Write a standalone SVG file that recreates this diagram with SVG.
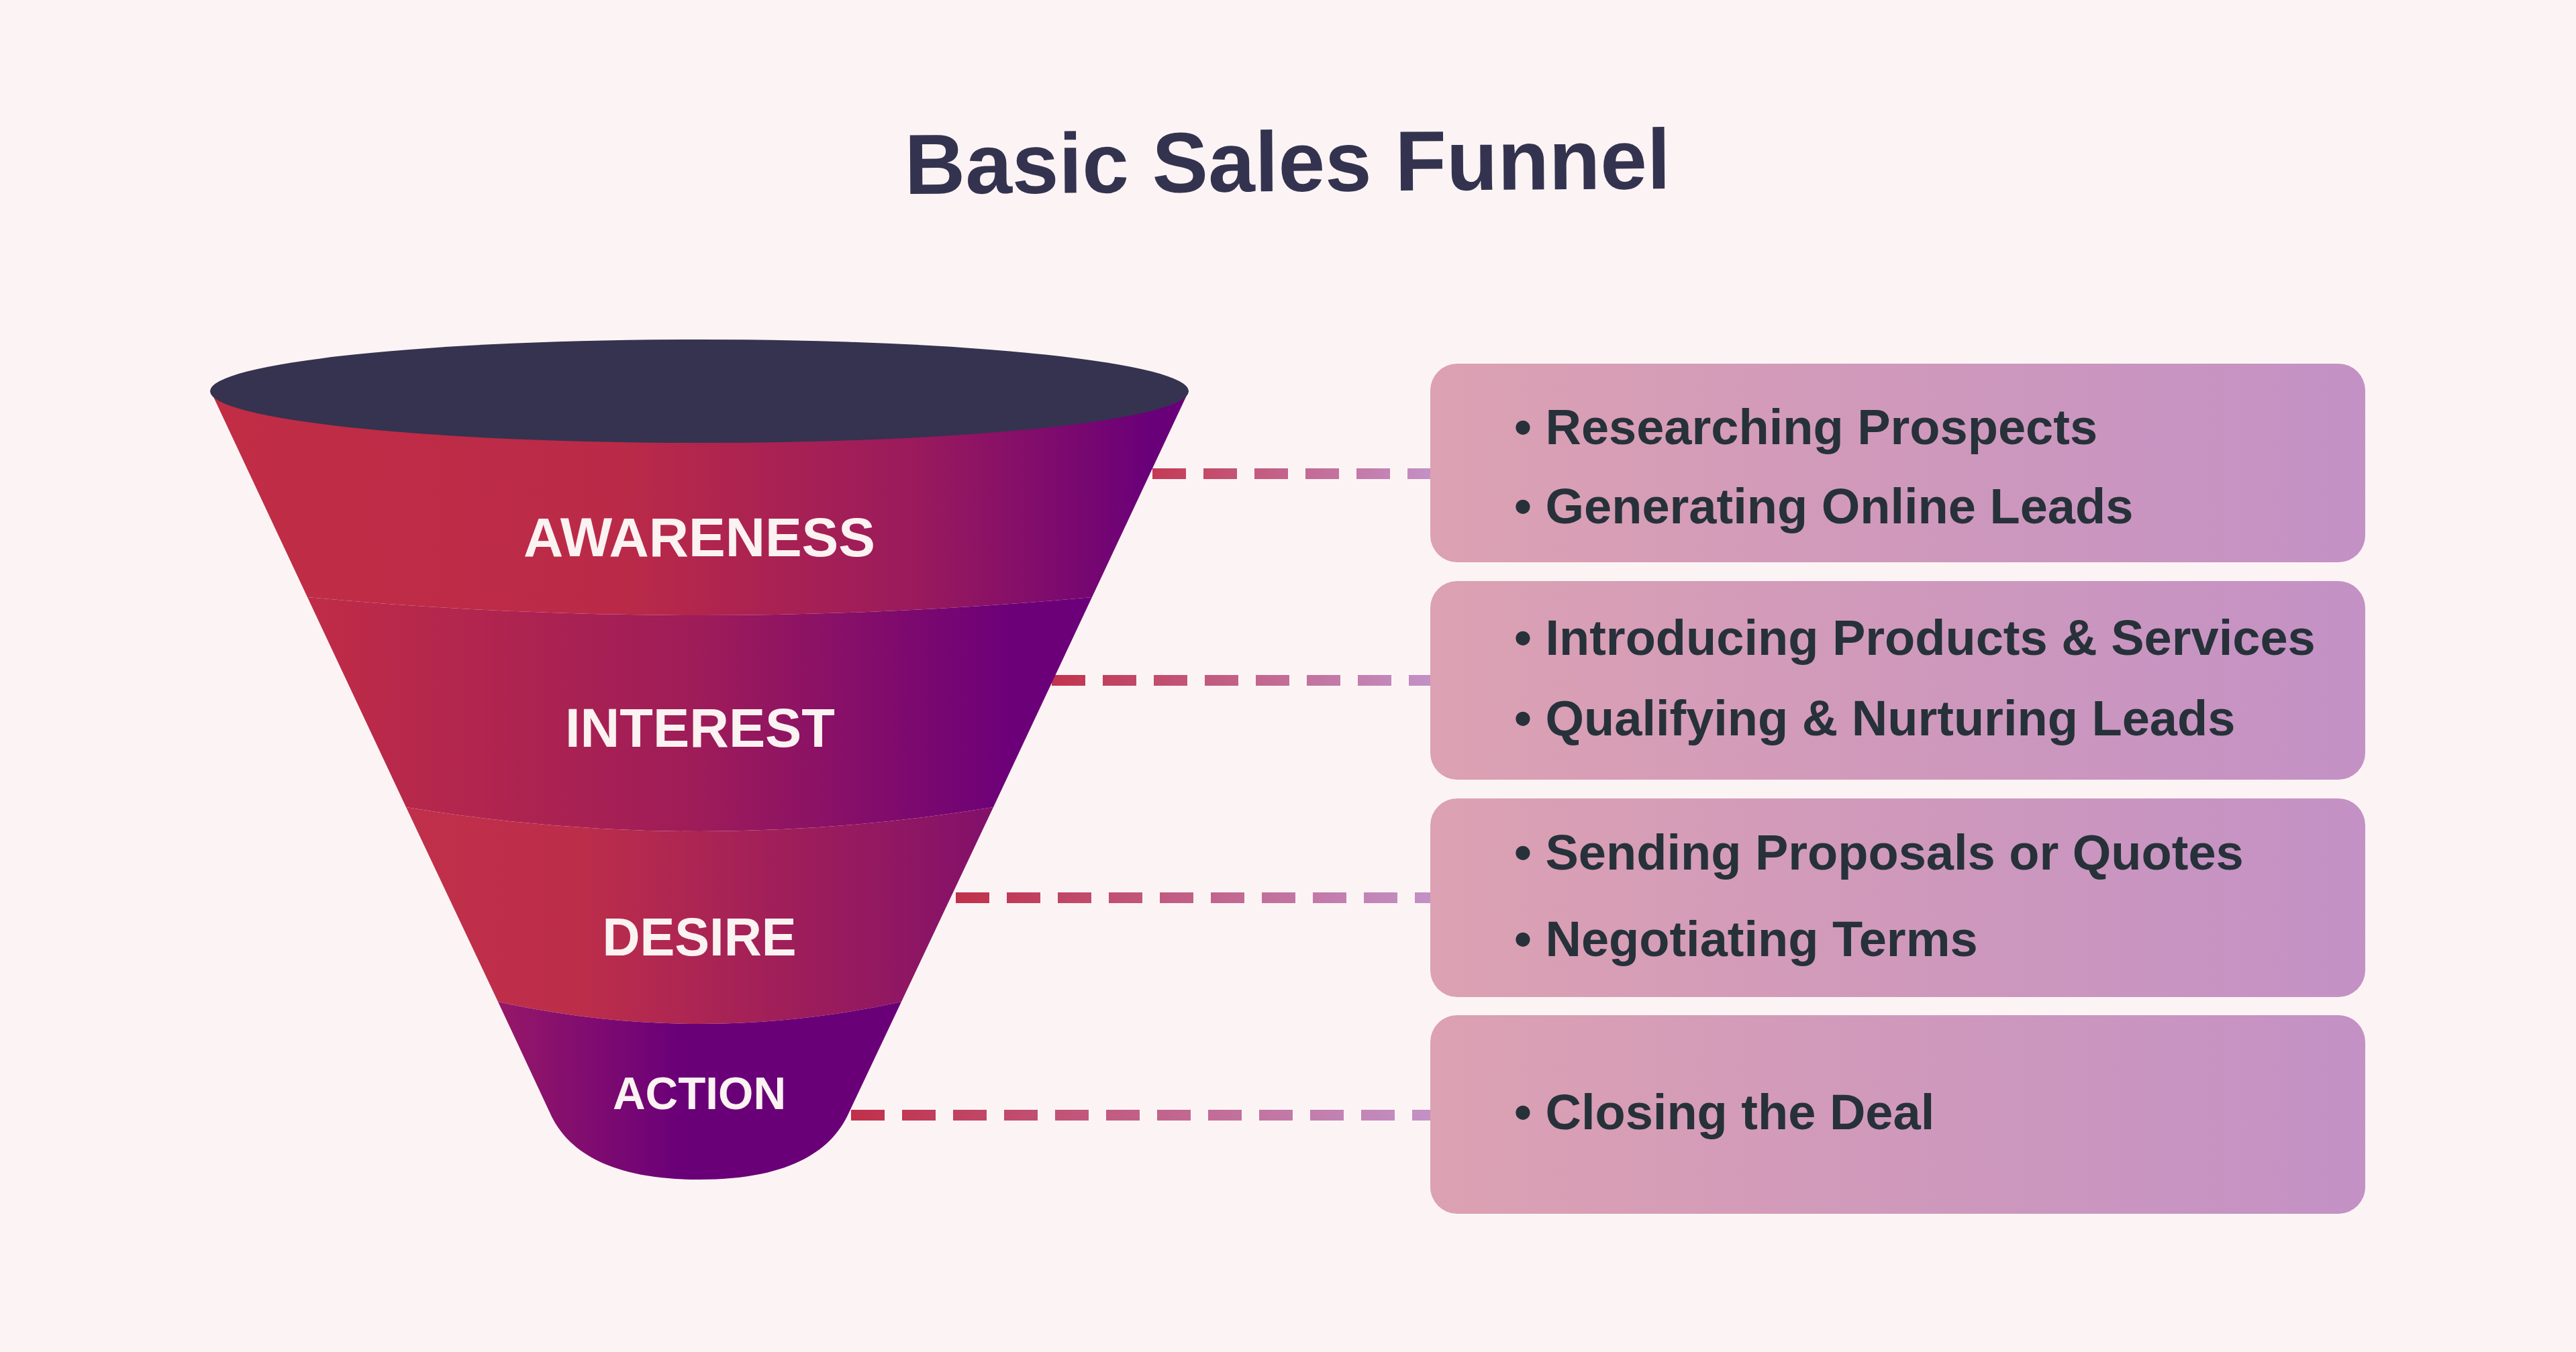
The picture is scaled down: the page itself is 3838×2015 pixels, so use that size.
<svg xmlns="http://www.w3.org/2000/svg" width="3838" height="2015" viewBox="0 0 3838 2015">
<style>
  .title{font-family:"Liberation Sans",Arial,sans-serif;font-weight:700;font-size:127px;fill:#34334f}
  .stage{font-family:"Liberation Sans",Arial,sans-serif;font-weight:700;fill:#fbf2f2;text-anchor:middle}
  .item{font-family:"Liberation Sans",Arial,sans-serif;font-weight:700;font-size:74px;fill:#27313a}
  .box{fill:url(#gBox)}
  .dash{fill:none;stroke-width:16;stroke-dasharray:50 26}
</style>
<defs>
  <linearGradient id="gAw" gradientUnits="userSpaceOnUse" x1="314" y1="0" x2="1771" y2="0">
    <stop offset="0" stop-color="#c12d45"/>
    <stop offset="0.42" stop-color="#ba2a48"/>
    <stop offset="0.72" stop-color="#9a1a5c"/>
    <stop offset="0.96" stop-color="#6a0079"/>
  </linearGradient>
  <linearGradient id="gIn" gradientUnits="userSpaceOnUse" x1="455" y1="0" x2="1627" y2="0">
    <stop offset="0" stop-color="#c02c46"/>
    <stop offset="0.5" stop-color="#9e1c59"/>
    <stop offset="0.9" stop-color="#6c0079"/>
  </linearGradient>
  <linearGradient id="gDe" gradientUnits="userSpaceOnUse" x1="605" y1="0" x2="1480" y2="0">
    <stop offset="0" stop-color="#c1304a"/>
    <stop offset="0.3" stop-color="#bc2d4a"/>
    <stop offset="1" stop-color="#82106a"/>
  </linearGradient>
  <linearGradient id="gAc" gradientUnits="userSpaceOnUse" x1="742" y1="0" x2="1343" y2="0">
    <stop offset="0" stop-color="#961868"/>
    <stop offset="0.45" stop-color="#6a0078"/>
    <stop offset="1" stop-color="#6a0078"/>
  </linearGradient>
  <linearGradient id="gBox" x1="0" y1="0" x2="1" y2="0">
    <stop offset="0" stop-color="#dca1b2"/>
    <stop offset="1" stop-color="#c391c5"/>
  </linearGradient>
  <linearGradient id="gL1" gradientUnits="userSpaceOnUse" x1="1717" y1="0" x2="2132" y2="0">
    <stop offset="0" stop-color="#c43a55"/>
    <stop offset="1" stop-color="#c391c6"/>
  </linearGradient>
  <linearGradient id="gL2" gradientUnits="userSpaceOnUse" x1="1567" y1="0" x2="2132" y2="0">
    <stop offset="0" stop-color="#c2334c"/>
    <stop offset="1" stop-color="#c391c6"/>
  </linearGradient>
  <linearGradient id="gL3" gradientUnits="userSpaceOnUse" x1="1424" y1="0" x2="2132" y2="0">
    <stop offset="0" stop-color="#c0304a"/>
    <stop offset="1" stop-color="#c391c6"/>
  </linearGradient>
  <linearGradient id="gL4" gradientUnits="userSpaceOnUse" x1="1268" y1="0" x2="2132" y2="0">
    <stop offset="0" stop-color="#c0304a"/>
    <stop offset="1" stop-color="#c391c6"/>
  </linearGradient>
</defs>
<rect width="3838" height="2015" fill="#fcf4f4"/>

<text class="title" x="1348" y="289" textLength="1141" lengthAdjust="spacingAndGlyphs" transform="rotate(-0.4 1348 289)">Basic Sales Funnel</text>

<g id="connectors">
  <path class="dash" stroke="url(#gL1)" d="M1717 706 H2134"/>
  <path class="dash" stroke="url(#gL2)" d="M1567 1014 H2134"/>
  <path class="dash" stroke="url(#gL3)" d="M1424 1338 H2134"/>
  <path class="dash" stroke="url(#gL4)" d="M1268 1662 H2134"/>
</g>

<g id="funnel">
  <g id="node-awareness">
    <path fill="url(#gAw)" d="M314 583 L458 890 Q1042 944 1627 890 L1771 583 Z"/>
    <ellipse cx="1042" cy="583" rx="729" ry="77" fill="#35334f"/>
    <text class="stage" x="1042" y="829" font-size="82" textLength="524" lengthAdjust="spacingAndGlyphs">AWARENESS</text>
  </g>
  <g id="node-interest">
    <path fill="url(#gIn)" d="M458 890 Q1042 944 1627 890 L1480 1203 Q1042 1275 605 1203 Z"/>
    <text class="stage" x="1043" y="1113" font-size="82" textLength="402" lengthAdjust="spacingAndGlyphs">INTEREST</text>
  </g>
  <g id="node-desire">
    <path fill="url(#gDe)" d="M605 1203 Q1042 1275 1480 1203 L1343 1493 Q1042 1559 742 1493 Z"/>
    <text class="stage" x="1042" y="1424" font-size="80" textLength="289" lengthAdjust="spacingAndGlyphs">DESIRE</text>
  </g>
  <g id="node-action">
    <path fill="url(#gAc)" d="M742 1493 Q1042 1559 1343 1493 L1264 1660 C1241 1710 1184 1758 1042 1758 C900 1758 843 1710 820 1660 Z"/>
    <text class="stage" x="1042" y="1653" font-size="68" textLength="258" lengthAdjust="spacingAndGlyphs">ACTION</text>
  </g>
</g>

<g id="node-box1">
  <rect class="box" x="2131" y="542" width="1393" height="296" rx="40" ry="40"/>
  <text class="item" x="2256" y="662">• Researching Prospects</text>
  <text class="item" x="2256" y="780">• Generating Online Leads</text>
</g>
<g id="node-box2">
  <rect class="box" x="2131" y="866" width="1393" height="296" rx="40" ry="40"/>
  <text class="item" x="2256" y="976">• Introducing Products &amp; Services</text>
  <text class="item" x="2256" y="1096">• Qualifying &amp; Nurturing Leads</text>
</g>
<g id="node-box3">
  <rect class="box" x="2131" y="1190" width="1393" height="296" rx="40" ry="40"/>
  <text class="item" x="2256" y="1296">• Sending Proposals or Quotes</text>
  <text class="item" x="2256" y="1425">• Negotiating Terms</text>
</g>
<g id="node-box4">
  <rect class="box" x="2131" y="1513" width="1393" height="296" rx="40" ry="40"/>
  <text class="item" x="2256" y="1683">• Closing the Deal</text>
</g>
</svg>
